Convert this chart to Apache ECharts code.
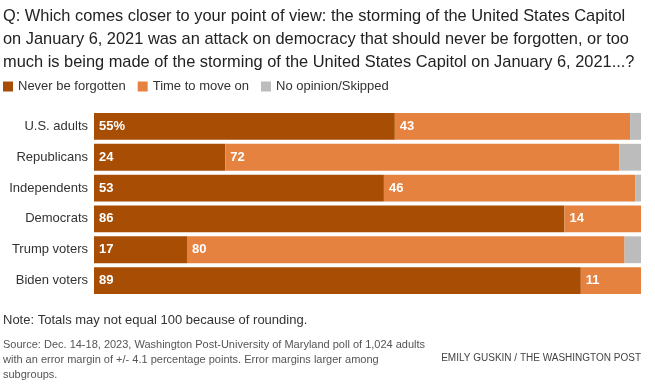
<!DOCTYPE html>
<html><head><meta charset="utf-8">
<script src="https://cdn.jsdelivr.net/npm/echarts@6/dist/echarts.min.js"></script>
<style>html,body{margin:0;padding:0;background:#fff}#c{width:655px;height:387px}</style>
</head><body><div id="c"></div>
<script>
const categories = ['U.S. adults','Republicans','Independents','Democrats','Trump voters','Biden voters'];
const neverForgotten = [55,24,53,86,17,89];
const timeToMoveOn = [43,72,46,14,80,11];
const noOpinion = [2,4,1,0,3,0];
const seriesNames = ['Never be forgotten','Time to move on','No opinion/Skipped'];
const colors = ['#a84d04','#e6823f','#bcbcbc'];
const FONT = 'Liberation Sans, Arial, sans-serif';

const chart = echarts.init(document.getElementById('c'));
const lbl = (fmt) => ({show:true, position:'insideLeft', distance:5, color:'#fff', fontFamily:FONT, fontSize:13, fontWeight:'bold', formatter:fmt});
chart.setOption({
  animation:false,
  textStyle:{fontFamily:FONT},
  title:{
    text:'Q: Which comes closer to your point of view: the storming of the United States Capitol\non January 6, 2021 was an attack on democracy that should never be forgotten, or too\nmuch is being made of the storming of the United States Capitol on January 6, 2021...?',
    left:3, top:5, padding:0,
    textStyle:{fontFamily:FONT, fontSize:16.4, fontWeight:'normal', color:'#222', lineHeight:23}
  },
  legend:{
    data:seriesNames, left:3, top:80, padding:0, icon:'rect', itemWidth:10, itemHeight:10, itemGap:12,
    textStyle:{fontFamily:FONT, fontSize:13, color:'#333'}
  },
  grid:{left:94, right:14, top:111, height:185, containLabel:false},
  xAxis:{type:'value', min:0, max:100, show:false},
  yAxis:{type:'category', data:categories, inverse:true,
    axisLine:{show:false}, axisTick:{show:false},
    axisLabel:{fontFamily:FONT, fontSize:13, color:'#333', margin:6}},
  series:[
    {name:seriesNames[0], type:'bar', stack:'a', data:neverForgotten, barCategoryGap:'13%', itemStyle:{color:colors[0]},
     label:lbl(p => p.dataIndex===0 ? p.value+'%' : p.value)},
    {name:seriesNames[1], type:'bar', stack:'a', data:timeToMoveOn, itemStyle:{color:colors[1]},
     label:lbl(p => p.value)},
    {name:seriesNames[2], type:'bar', stack:'a', data:noOpinion, itemStyle:{color:colors[2]}}
  ],
  graphic:[
    {type:'text', left:3, top:314, style:{text:'Note: Totals may not equal 100 because of rounding.', fontFamily:FONT, fontSize:13, fill:'#333'}},
    {type:'text', left:3, top:337, style:{text:'Source: Dec. 14-18, 2023, Washington Post-University of Maryland poll of 1,024 adults\nwith an error margin of +/- 4.1 percentage points. Error margins larger among\nsubgroups.', fontFamily:FONT, fontSize:11, lineHeight:15, fill:'#555'}},
    {type:'text', right:14, top:353, style:{text:'EMILY GUSKIN / THE WASHINGTON POST', fontFamily:FONT, fontSize:10, fill:'#444'}}
  ]
});
</script></body></html>
